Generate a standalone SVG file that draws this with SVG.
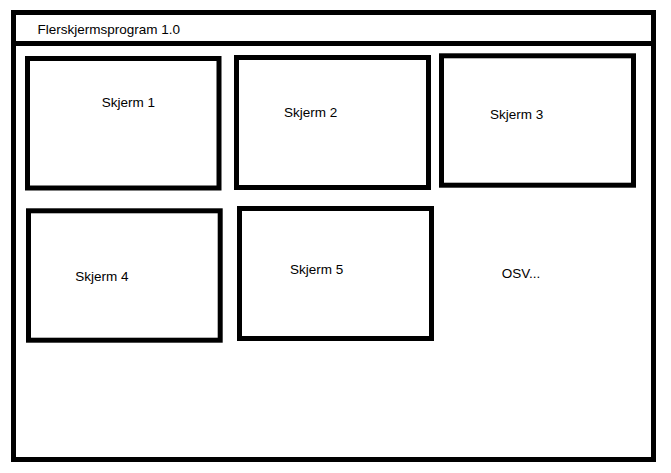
<svg xmlns="http://www.w3.org/2000/svg" width="671" height="473" viewBox="0 0 671 473">
<style>
.frame{fill:none;stroke:#000;stroke-width:5}
.box{fill:#fff;stroke:#000;stroke-width:5}
.lbl{font-family:"Liberation Sans",Arial,sans-serif;font-size:13.5px;fill:#000}
</style>
<rect width="671" height="473" fill="#fff"/>
<g id="window">
<rect class="frame" x="13.5" y="12.5" width="640" height="447"/>
<line class="frame" x1="13.5" y1="43.5" x2="653.5" y2="43.5"/>
<text class="lbl" x="37.5" y="34">Flerskjermsprogram 1.0</text>
</g>
<g id="skjerm1">
<rect class="box" x="27.5" y="58.5" width="191.5" height="129.5"/>
<text class="lbl" x="101.7" y="107.3">Skjerm 1</text>
</g>
<g id="skjerm2">
<rect class="box" x="236.5" y="57.5" width="192" height="130"/>
<text class="lbl" x="284" y="117">Skjerm 2</text>
</g>
<g id="skjerm3">
<rect class="box" x="441.5" y="55.8" width="192" height="129.4"/>
<text class="lbl" x="490" y="119">Skjerm 3</text>
</g>
<g id="skjerm4">
<rect class="box" x="28.5" y="210.8" width="191.7" height="129.4"/>
<text class="lbl" x="75.3" y="281">Skjerm 4</text>
</g>
<g id="skjerm5">
<rect class="box" x="239.5" y="208.5" width="192" height="130"/>
<text class="lbl" x="290" y="273.7">Skjerm 5</text>
</g>
<g id="osv">
<text class="lbl" x="501.7" y="278.3">OSV...</text>
</g>
<g id="connectors"/>
</svg>
